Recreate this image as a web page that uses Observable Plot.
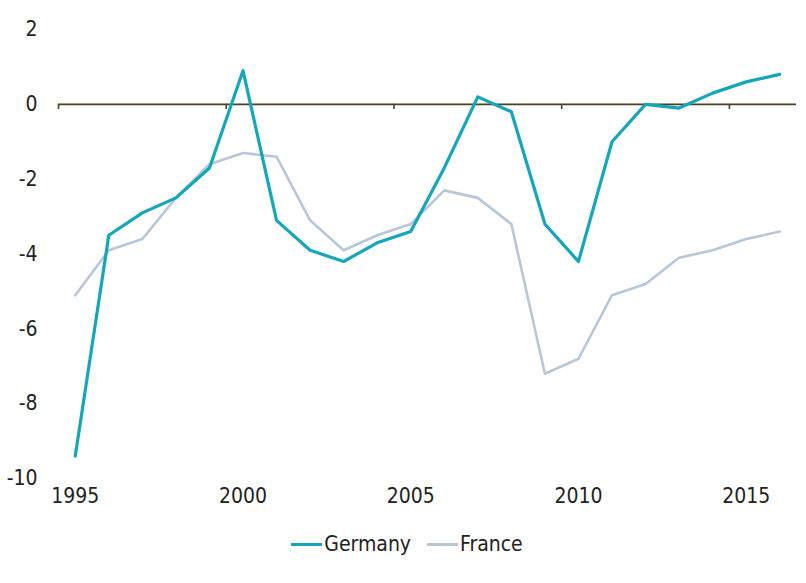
<!DOCTYPE html>
<html>
<head>
<meta charset="utf-8">
<script src="https://cdn.jsdelivr.net/npm/d3@7"></script>
<script src="https://cdn.jsdelivr.net/npm/@observablehq/plot@0.6"></script>
<style>
  body { margin: 0; background: #fff; }
  #chart { width: 806px; font-family: "Liberation Sans Narrow", "DejaVu Sans Condensed", sans-serif; }
  .legend { display: flex; justify-content: center; align-items: center; gap: 16px; font-size: 21px; color: #222; margin-top: 14px; padding-left: 8px; }
  .legend span.item { display: flex; align-items: center; }
  .legend span.sw { display: inline-block; width: 31px; height: 3px; margin-right: 2px; }
</style>
</head>
<body>
<div id="chart"></div>
<script>
const years = [1995,1996,1997,1998,1999,2000,2001,2002,2003,2004,2005,2006,2007,2008,2009,2010,2011,2012,2013,2014,2015,2016];
const germany = [-9.4,-3.5,-2.9,-2.5,-1.7,0.9,-3.1,-3.9,-4.2,-3.7,-3.4,-1.7,0.2,-0.2,-3.2,-4.2,-1.0,0.0,-0.1,0.3,0.6,0.8];
const france = [-5.1,-3.9,-3.6,-2.5,-1.6,-1.3,-1.4,-3.1,-3.9,-3.5,-3.2,-2.3,-2.5,-3.2,-7.2,-6.8,-5.1,-4.8,-4.1,-3.9,-3.6,-3.4];
const seriesNames = ["Germany", "France"];
const seriesColors = ["#15a6ba", "#b7c7da"];
const xTickLabels = [1995, 2000, 2005, 2010, 2015];
const xTickBounds = [1994.5, 1999.5, 2004.5, 2009.5, 2014.5];
const yTicks = [2, 0, -2, -4, -6, -8, -10];

const rows = [];
years.forEach((y, i) => {
  rows.push({year: y, value: germany[i], series: seriesNames[0]});
});
years.forEach((y, i) => {
  rows.push({year: y, value: france[i], series: seriesNames[1]});
});

const plot = Plot.plot({
  width: 806,
  height: 518,
  marginLeft: 58,
  marginRight: 10,
  marginTop: 29,
  marginBottom: 40,
  style: { fontFamily: '"Liberation Sans Narrow", "DejaVu Sans Condensed", sans-serif', fontSize: "21px", color: "#222" },
  x: { domain: [1994.5, 2016.5] },
  y: { domain: [-10, 2] },
  marks: [
    Plot.axisX({ ticks: xTickLabels, tickSize: 0, tickPadding: 10, tickFormat: d => String(d), label: null, fontSize: 21 }),
    Plot.axisY({ ticks: yTicks, tickSize: 0, tickPadding: 21, tickFormat: d => String(d), label: null, fontSize: 21 }),
    Plot.ruleY([0], { stroke: "#4a4222", strokeWidth: 1.6 }),
    Plot.ruleX(xTickBounds, { y1: 0, y2: -0.14, stroke: "#4a4222", strokeWidth: 1.6 }),
    Plot.line(rows.filter(d => d.series === "France"), { x: "year", y: "value", stroke: seriesColors[1], strokeWidth: 2.6 }),
    Plot.line(rows.filter(d => d.series === "Germany"), { x: "year", y: "value", stroke: seriesColors[0], strokeWidth: 3.2 })
  ]
});
document.getElementById("chart").appendChild(plot);

const legend = document.createElement("div");
legend.className = "legend";
seriesNames.forEach((n, i) => {
  const item = document.createElement("span");
  item.className = "item";
  const sw = document.createElement("span");
  sw.className = "sw";
  sw.style.background = seriesColors[i];
  item.appendChild(sw);
  item.appendChild(document.createTextNode(n));
  legend.appendChild(item);
});
document.getElementById("chart").appendChild(legend);
</script>
</body>
</html>
